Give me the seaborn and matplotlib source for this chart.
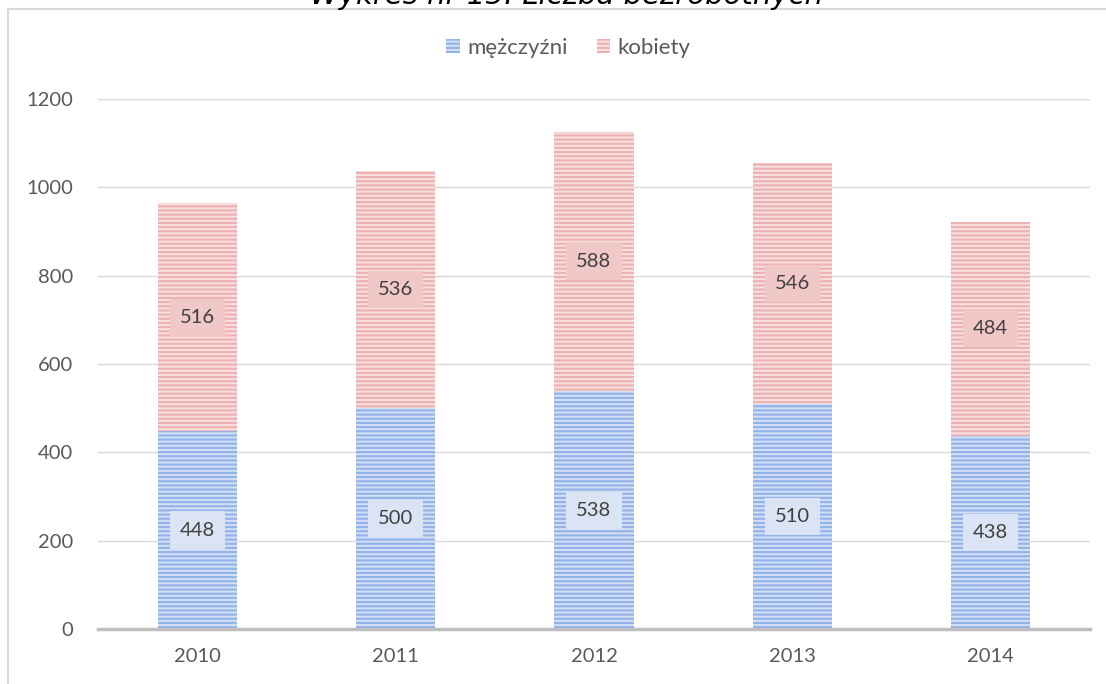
import seaborn as sns
import matplotlib.pyplot as plt
import pandas as pd
from matplotlib.patches import Patch, Rectangle

lata = ['2010', '2011', '2012', '2013', '2014']
mezczyzni = [448, 500, 538, 510, 438]
kobiety = [516, 536, 588, 546, 484]

df = pd.DataFrame({'rok': lata, 'mezczyzni': mezczyzni, 'kobiety': kobiety})
df['razem'] = df['mezczyzni'] + df['kobiety']

sns.set_theme(style='white')
plt.rcParams['font.family'] = ['Lato', 'DejaVu Sans']
plt.rcParams['hatch.linewidth'] = 1.6

blue_face, blue_hatch, blue_box = '#D3E0F6', '#94B3E8', '#DAE4F4'
pink_face, pink_hatch, pink_box = '#F9E0E0', '#EDB3B3', '#F0C8C8'
txt = '#404040'
grey = '#595959'

fig = plt.figure(figsize=(11.06, 6.84), dpi=100)
ax = fig.add_axes([98/1106, 1-629/684, (1090-98)/1106, (629-99)/684])

# kobiety stacked over mezczyzni: draw totals, then men on top
sns.barplot(data=df, x='rok', y='razem', color=pink_face, saturation=1, width=0.4,
            edgecolor=pink_hatch, linewidth=0, hatch='----', ax=ax)
sns.barplot(data=df, x='rok', y='mezczyzni', color=blue_face, saturation=1, width=0.4,
            edgecolor=blue_hatch, linewidth=0, hatch='----', ax=ax)

for i, (m, k) in enumerate(zip(mezczyzni, kobiety)):
    ax.text(i, m/2, str(m), ha='center', va='center', fontsize=14.5, color=txt,
            bbox=dict(boxstyle='square,pad=0.5', fc=blue_box, ec='none'))
    ax.text(i, m + k/2, str(k), ha='center', va='center', fontsize=14.5, color=txt,
            bbox=dict(boxstyle='square,pad=0.5', fc=pink_box, ec='none'))

ax.set_ylim(0, 1200)
ax.set_xlim(-0.5, 4.5)
ax.set_yticks(range(0, 1201, 200))
ax.yaxis.grid(True, color='#D9D9D9', linewidth=1)
ax.set_axisbelow(True)
ax.set_xlabel('')
ax.set_ylabel('')
ax.tick_params(axis='both', length=0, labelsize=14.5, labelcolor=grey)
ax.tick_params(axis='y', pad=18)
ax.tick_params(axis='x', pad=14)
for s in ['top', 'right', 'left']:
    ax.spines[s].set_visible(False)
ax.spines['bottom'].set_color('#BFBFBF')
ax.spines['bottom'].set_linewidth(2.5)

# chart frame
fig.patches.append(Rectangle((8/1106, -0.01), 1.0, 1-9/684+0.01, transform=fig.transFigure,
                             fill=False, ec='#D9D9D9', lw=1.5))

handles = [Patch(fc=blue_face, ec=blue_hatch, hatch='----', lw=0, label='mężczyźni'),
           Patch(fc=pink_face, ec=pink_hatch, hatch='----', lw=0, label='kobiety')]
fig.legend(handles=handles, loc='center', bbox_to_anchor=(0.514, 1-48/684), ncol=2,
           frameon=False, handlelength=0.6, handleheight=0.6, handletextpad=0.35,
           columnspacing=1.3, fontsize=16, labelcolor=grey)

fig.text(0.512, 1-4/684, 'Wykres nr 15. Liczba bezrobotnych', ha='center', va='baseline',
         fontsize=21, style='italic', color='#000000', family=['DejaVu Sans'])

fig.savefig('out.png', dpi=100)
